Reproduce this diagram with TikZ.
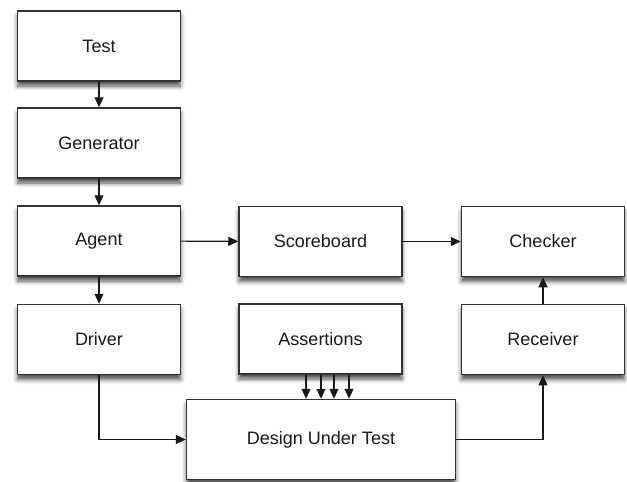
\documentclass[tikz,border=0pt]{standalone}
\usepackage{fontspec}
\setmainfont{Liberation Sans}
\usetikzlibrary{arrows.meta,shadows.blur}
\begin{document}
\begin{tikzpicture}[x=1pt,y=-1pt,
  block/.style={draw=black!80, line width=1.5pt, fill=white,
    minimum width=163pt, minimum height=70pt, inner sep=0pt,
    font=\fontsize{18}{21}\selectfont, text=black!90,
    blur shadow={shadow xshift=0pt, shadow yshift=-5pt,
      shadow blur radius=4.5pt, shadow opacity=70}},
  arr/.style={draw=black!90, line width=1.1pt,
    -{Triangle[length=10pt,width=9pt]}}]
\useasboundingbox (0,0) rectangle (627,482);
\node[block] (test)    at (99,46)    {Test};
\node[block] (gen)     at (99,143)   {Generator};
\node[block] (agent)   at (99,241)   {Agent};
\node[block] (driver)  at (99,339.5) {Driver};
\node[block] (score)   at (320.5,241.5) {Scoreboard};
\node[block] (checker) at (543,241.5)   {Checker};
\node[block] (assert)  at (320.5,339)   {Assertions};
\node[block] (recv)    at (543,339.5)   {Receiver};
\node[block, minimum width=269pt, minimum height=80pt] (dut) at (321,439.5) {Design Under Test};
% vertical chain on the left
\draw[arr] (test) -- (gen);
\draw[arr] (gen) -- (agent);
\draw[arr] (agent) -- (driver);
% horizontal flow
\draw[arr] (agent) -- (score);
\draw[arr] (score) -- (checker);
\draw[arr] (recv) -- (checker);
% into and out of the design under test
\draw[arr] (driver.south) |- (dut.west);
\draw[arr] (dut.east) -| (recv.south);
\foreach \dx in {-14.5,0.5,13.5,28.5}
  \draw[arr] ([xshift=\dx pt]assert.south) -- ([xshift=\dx pt]assert.south |- dut.north);
\end{tikzpicture}
\end{document}
